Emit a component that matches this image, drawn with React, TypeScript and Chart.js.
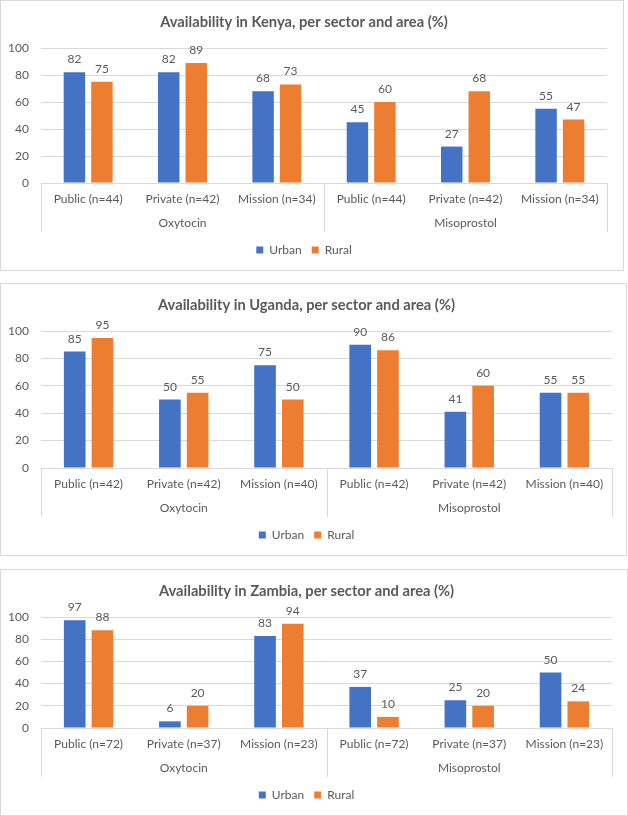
import React, { useEffect, useRef } from 'react';
import { Chart, registerables } from 'chart.js';

Chart.register(...registerables);

// ---- Data ----
const groupLabels = ['Oxytocin', 'Misoprostol'];
const seriesNames = ['Urban', 'Rural'];

const kenyaLabels = ['Public (n=44)', 'Private (n=42)', 'Mission (n=34)', 'Public (n=44)', 'Private (n=42)', 'Mission (n=34)'];
const kenyaUrban = [82, 82, 68, 45, 27, 55];
const kenyaRural = [75, 89, 73, 60, 68, 47];

const ugandaLabels = ['Public (n=42)', 'Private (n=42)', 'Mission (n=40)', 'Public (n=42)', 'Private (n=42)', 'Mission (n=40)'];
const ugandaUrban = [85, 50, 75, 90, 41, 55];
const ugandaRural = [95, 55, 50, 86, 60, 55];

const zambiaLabels = ['Public (n=72)', 'Private (n=37)', 'Mission (n=23)', 'Public (n=72)', 'Private (n=37)', 'Mission (n=23)'];
const zambiaUrban = [97, 6, 83, 37, 25, 50];
const zambiaRural = [88, 20, 94, 10, 20, 24];

const yMin = 0;
const yMax = 100;
const yStep = 20;

// ---- Styles ----
const FONT = "Lato, 'Open Sans', sans-serif";
const TEXT = '#595959';
const GRID = '#d9d9d9';
const BLUE = '#4472C4';
const ORANGE = '#ED7D31';

const valueLabels = {
  id: 'valueLabels',
  afterDatasetsDraw(chart: any) {
    const ctx = chart.ctx;
    ctx.save();
    ctx.font = `12px ${FONT}`;
    ctx.fillStyle = TEXT;
    ctx.textAlign = 'center';
    ctx.textBaseline = 'alphabetic';
    chart.data.datasets.forEach((ds: any, di: number) => {
      const meta = chart.getDatasetMeta(di);
      meta.data.forEach((el: any, i: number) => {
        ctx.fillText(String(ds.data[i]), el.x, el.y - 9);
      });
    });
    ctx.restore();
  },
};

const separators = {
  id: 'separators',
  afterDraw(chart: any) {
    const x = chart.scales.x;
    const x2 = chart.scales.x2;
    const area = chart.chartArea;
    const ctx = chart.ctx;
    const mid = (x.getPixelForTick(2) + x.getPixelForTick(3)) / 2;
    const positions = [x.left, mid, x.right];
    ctx.save();
    ctx.strokeStyle = GRID;
    ctx.lineWidth = 1;
    ctx.beginPath();
    positions.forEach((p) => {
      const px = Math.round(p) + 0.5;
      ctx.moveTo(px, area.bottom);
      ctx.lineTo(px, x2.bottom - 2);
    });
    ctx.stroke();
    ctx.restore();
  },
};

type PanelProps = {
  title: string;
  labels: string[];
  urban: number[];
  rural: number[];
  top: number;
  height: number;
  width: number;
  padRight: number;
};

function Panel({ title, labels, urban, rural, top, height, width, padRight }: PanelProps) {
  const ref = useRef<HTMLCanvasElement | null>(null);
  const cw = width - 2;
  const ch = height - 2;

  useEffect(() => {
    if (!ref.current) return;
    const font = { family: FONT, size: 12 };
    const chart = new Chart(ref.current, {
      type: 'bar',
      data: {
        labels,
        datasets: [
          { label: seriesNames[0], data: urban, backgroundColor: BLUE, categoryPercentage: 0.583, barPercentage: 0.78 },
          { label: seriesNames[1], data: rural, backgroundColor: ORANGE, categoryPercentage: 0.583, barPercentage: 0.78 },
        ],
      },
      options: {
        responsive: false,
        animation: false,
        layout: { padding: { left: 0, right: padRight, top: 0, bottom: 4 } },
        plugins: {
          title: {
            display: true,
            text: title,
            color: TEXT,
            font: { family: FONT, size: 14.7, weight: 'bold', lineHeight: 1.2 },
            padding: { top: 12.2, bottom: 17.2 },
          },
          legend: {
            position: 'bottom',
            labels: { boxWidth: 7, boxHeight: 7, color: TEXT, font, padding: 10 },
          },
          tooltip: { enabled: false },
        },
        scales: {
          x: {
            type: 'category',
            offset: true,
            weight: 0,
            grid: { display: false, drawTicks: false },
            border: { display: true, color: GRID },
            ticks: { color: TEXT, font, padding: 8.8, maxRotation: 0, autoSkip: false },
            afterFit: (s: any) => { s.height = 32; },
          },
          x2: {
            type: 'category',
            position: 'bottom',
            labels: groupLabels,
            offset: true,
            weight: 1,
            grid: { display: false, drawTicks: false },
            border: { display: false },
            ticks: { color: TEXT, font, padding: 0.8, maxRotation: 0, autoSkip: false },
            afterFit: (s: any) => { s.height = 19; },
          },
          y: {
            min: yMin,
            max: yMax,
            ticks: { stepSize: yStep, padding: 12, color: TEXT, font },
            grid: { color: GRID, drawTicks: false },
            border: { display: false },
            afterFit: (s: any) => { s.width = 40; },
          },
        },
      } as any,
      plugins: [valueLabels, separators],
    });
    return () => chart.destroy();
  }, []);

  return (
    <div
      style={{
        position: 'absolute',
        left: 0,
        top,
        width,
        height,
        boxSizing: 'border-box',
        border: `1px solid ${GRID}`,
        background: '#fff',
      }}
    >
      <canvas ref={ref} width={cw} height={ch} style={{ display: 'block', width: cw, height: ch }} />
    </div>
  );
}

export default function App() {
  return (
    <div style={{ position: 'absolute', left: 0, top: 0, width: 628, height: 816, background: '#fff' }}>
      <Panel title="Availability in Kenya, per sector and area (%)" labels={kenyaLabels} urban={kenyaUrban} rural={kenyaRural} top={0} height={271} width={624} padRight={16} />
      <Panel title="Availability in Uganda, per sector and area (%)" labels={ugandaLabels} urban={ugandaUrban} rural={ugandaRural} top={283} height={273} width={627} padRight={14} />
      <Panel title="Availability in Zambia, per sector and area (%)" labels={zambiaLabels} urban={zambiaUrban} rural={zambiaRural} top={569} height={247} width={628} padRight={15} />
    </div>
  );
}
